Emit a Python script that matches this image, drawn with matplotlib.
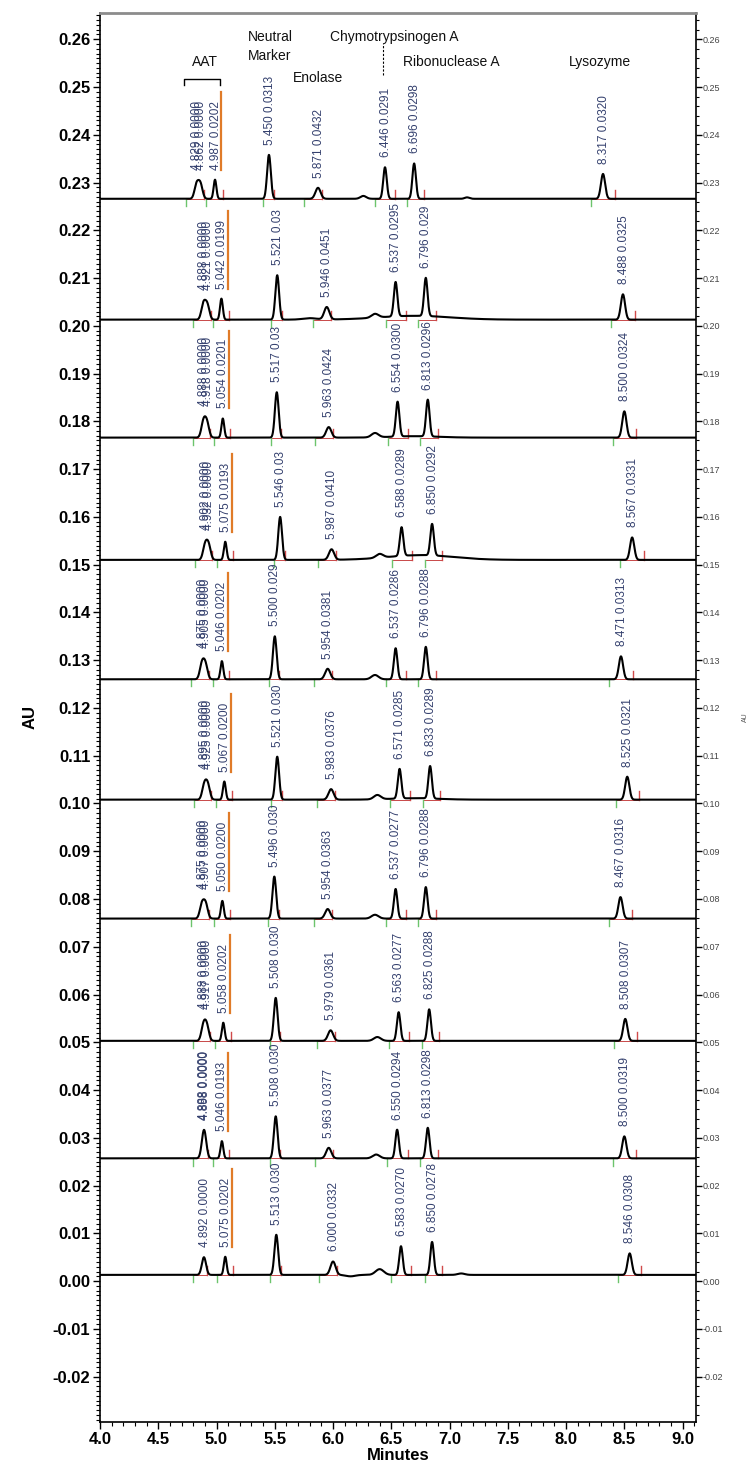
import numpy as np
import matplotlib
matplotlib.use("Agg")
import matplotlib.pyplot as plt
from matplotlib.ticker import MultipleLocator, FormatStrFormatter
from matplotlib.transforms import Bbox, TransformedBbox

plt.rcParams['font.family'] = ['Liberation Sans', 'DejaVu Sans']

# ---- run baselines (AU), top run first ----
baselines = [0.2266, 0.2013, 0.1766, 0.1510, 0.1260, 0.1008, 0.0759, 0.0503, 0.0257, 0.0013]

# ---- integrated peaks per run: retention time (min), area text, apex height above baseline (AU)
# the leading entries are the AAT main peak (one or two integration events),
# the last six are AAT minor, neutral marker, enolase, chymotrypsinogen A, ribonuclease A, lysozyme
run_rt = [
    [4.829, 4.862, 4.987, 5.450, 5.871, 6.446, 6.696, 8.317],
    [4.888, 4.921, 5.042, 5.521, 5.946, 6.537, 6.796, 8.488],
    [4.888, 4.918, 5.054, 5.517, 5.963, 6.554, 6.813, 8.500],
    [4.902, 4.932, 5.075, 5.546, 5.987, 6.588, 6.850, 8.567],
    [4.875, 4.905, 5.046, 5.500, 5.954, 6.537, 6.796, 8.471],
    [4.895, 4.925, 5.067, 5.521, 5.983, 6.571, 6.833, 8.525],
    [4.875, 4.907, 5.050, 5.496, 5.954, 6.537, 6.796, 8.467],
    [4.888, 4.917, 5.058, 5.508, 5.979, 6.563, 6.825, 8.508],
    [4.888, 4.898, 5.046, 5.508, 5.963, 6.550, 6.813, 8.500],
    [4.892, 5.075, 5.513, 6.000, 6.583, 6.850, 8.546],
]
run_area = [
    ["0.0000", "0.0000", "0.0202", "0.0313", "0.0432", "0.0291", "0.0298", "0.0320"],
    ["0.0000", "0.0000", "0.0199", "0.03", "0.0451", "0.0295", "0.029", "0.0325"],
    ["0.0000", "0.0000", "0.0201", "0.03", "0.0424", "0.0300", "0.0296", "0.0324"],
    ["0.0000", "0.0000", "0.0193", "0.03", "0.0410", "0.0289", "0.0292", "0.0331"],
    ["0.0000", "0.0000", "0.0202", "0.029", "0.0381", "0.0286", "0.0288", "0.0313"],
    ["0.0000", "0.0000", "0.0200", "0.030", "0.0376", "0.0285", "0.0289", "0.0321"],
    ["0.0000", "0.0000", "0.0200", "0.030", "0.0363", "0.0277", "0.0288", "0.0316"],
    ["0.0000", "0.0000", "0.0202", "0.030", "0.0361", "0.0277", "0.0288", "0.0307"],
    ["0.0000", "0.0000", "0.0193", "0.030", "0.0377", "0.0294", "0.0298", "0.0319"],
    ["0.0000", "0.0202", "0.030", "0.0332", "0.0270", "0.0278", "0.0308"],
]
run_height = [
    [0.0030, 0.0030, 0.0040, 0.0092, 0.0023, 0.0066, 0.0074, 0.0052],
    [0.0033, 0.0030, 0.0044, 0.0093, 0.0026, 0.0072, 0.0080, 0.0053],
    [0.0033, 0.0030, 0.0040, 0.0095, 0.0022, 0.0073, 0.0077, 0.0055],
    [0.0030, 0.0030, 0.0038, 0.0090, 0.0022, 0.0060, 0.0066, 0.0047],
    [0.0032, 0.0030, 0.0038, 0.0090, 0.0022, 0.0065, 0.0068, 0.0048],
    [0.0030, 0.0030, 0.0038, 0.0090, 0.0022, 0.0062, 0.0068, 0.0048],
    [0.0030, 0.0030, 0.0037, 0.0088, 0.0020, 0.0062, 0.0066, 0.0045],
    [0.0032, 0.0030, 0.0038, 0.0090, 0.0022, 0.0060, 0.0066, 0.0046],
    [0.0032, 0.0030, 0.0036, 0.0088, 0.0022, 0.0060, 0.0064, 0.0046],
    [0.0037, 0.0038, 0.0084, 0.0028, 0.0060, 0.0069, 0.0045],
]
# small baseline features per run: (centre min, height AU, width min)
run_bumps = [
    [(6.26, 0.0006, 0.025), (7.15, 0.0003, 0.02)],
    [(6.36, 0.0008, 0.03), (6.7, 0.0008, 0.30), (5.8, 0.0003, 0.06)],
    [(6.36, 0.0009, 0.03), (6.7, 0.0003, 0.20)],
    [(6.40, 0.0008, 0.03), (6.75, 0.0010, 0.28)],
    [(6.36, 0.0009, 0.03)],
    [(6.38, 0.0009, 0.03), (6.7, 0.0003, 0.20)],
    [(6.36, 0.0008, 0.03)],
    [(6.38, 0.0008, 0.03)],
    [(6.37, 0.0008, 0.03)],
    [(6.40, 0.0012, 0.035), (6.15, -0.0003, 0.04), (7.1, 0.0003, 0.03)],
]

# compound labels across the top run
names = ["AAT", "Neutral\nMarker", "Enolase", "Chymotrypsinogen A", "Ribonuclease A", "Lysozyme"]
name_x = [4.90, 5.27, 5.655, 5.97, 6.60, 8.02]
name_y = [0.2552, 0.2585, 0.2518, 0.2605, 0.2552, 0.2552]

# peak shape and integration-window settings for the trailing six peaks
tail_sigma = [0.012, 0.016, 0.022, 0.015, 0.015, 0.018]
tail_start = [-0.075, -0.05, -0.12, -0.085, -0.065, -0.10]
tail_end = [0.065, 0.04, 0.035, 0.09, 0.085, 0.10]
aat_sigma = 0.018

x_min, x_max = 4.0, 9.115
y_min, y_max = -0.0295, 0.2655
t = np.linspace(x_min, x_max, 3000)

fig = plt.figure(figsize=(7.52, 14.71), dpi=100)
ax = fig.add_axes([100 / 752, 1 - 1422 / 1471, 596 / 752, 1409 / 1471])

label_col = '#34406e'
tick_len = 0.0015

for i, base in enumerate(baselines):
    rts, areas, hts = run_rt[i], run_area[i], run_height[i]
    n_aat = len(rts) - 6
    sigmas = [aat_sigma] * n_aat + tail_sigma
    y = np.full_like(t, base)
    for rt, h, s in zip(rts, hts, sigmas):
        y += h * np.exp(-0.5 * ((t - rt) / s) ** 2)
    for c, h, w in run_bumps[i]:
        y += h * np.exp(-0.5 * ((t - c) / w) ** 2)

    # integration windows: AAT main group then the rest
    windows = [(rts[0] - 0.09, rts[n_aat - 1] + 0.03)]
    for k in range(6):
        rt = rts[n_aat + k]
        windows.append((rt + tail_start[k], rt + tail_end[k]))
    for a, b in windows:
        ax.plot([a, b], [base, base], color='#c84848', lw=0.7, zorder=2)
        ax.plot([a, a], [base, base - tick_len], color='#6cc46c', lw=1.0, zorder=2)
        ax.plot([b, b], [base, base + 0.0018], color='#d04a4a', lw=1.0, zorder=2)

    ax.plot(t, y, color='black', lw=1.5, zorder=3)

    # clip labels to this run's band
    top = baselines[i - 1] - 0.0004 if i > 0 else y_max
    clip = TransformedBbox(Bbox([[x_min, base], [x_max, top]]), ax.transData)
    for j, (rt, area) in enumerate(zip(rts, areas)):
        sel = np.abs(t - rt) < 0.03
        y0 = y[sel].max() + 0.0021
        if j < n_aat:
            y0 = y[np.abs(t - rts[0]) < 0.06].max() + 0.0021
        txt = ax.text(rt + 0.005, y0, f"{rt:.3f} {area}", rotation=90, ha='center',
                      va='bottom', fontsize=8.5, color=label_col, zorder=4)
        txt.set_clip_box(clip)
        txt.set_clip_on(True)
        if j == n_aat:
            ax.plot([rt + 0.055, rt + 0.055], [y0, y0 + 0.0163], color='#e07b28', lw=1.6, zorder=4)

# compound names and the AAT bracket
for nm, nx, ny in zip(names, name_x, name_y):
    ax.text(nx, ny, nm, fontsize=10, ha='center' if nm == 'AAT' else 'left',
            va='center', color='#111111', linespacing=1.45)
ax.plot([4.72, 4.72, 5.03, 5.03], [0.2505, 0.2516, 0.2516, 0.2505], color='black', lw=1.0)
ax.plot([6.425, 6.425], [0.2525, 0.2592], color='black', lw=0.8, ls=(0, (2, 1.5)))

ax.set_xlim(x_min, x_max)
ax.set_ylim(y_min, y_max)
ax.xaxis.set_major_locator(MultipleLocator(0.5))
ax.xaxis.set_minor_locator(MultipleLocator(0.1))
ax.yaxis.set_major_locator(MultipleLocator(0.01))
ax.yaxis.set_minor_locator(MultipleLocator(0.001))
ax.xaxis.set_major_formatter(FormatStrFormatter('%.1f'))
ax.yaxis.set_major_formatter(FormatStrFormatter('%.2f'))
ax.tick_params(axis='both', which='major', length=5, width=1, labelsize=12, pad=2)
ax.tick_params(axis='both', which='minor', length=3, width=0.8)
for lab in ax.get_xticklabels() + ax.get_yticklabels():
    lab.set_fontweight('bold')
ax.spines['top'].set_color('#8c8c8c')
ax.spines['top'].set_linewidth(2)
for sp in ['left', 'right', 'bottom']:
    ax.spines[sp].set_linewidth(1.2)

ax2 = ax.twinx()
ax2.set_ylim(y_min, y_max)
ax2.yaxis.set_major_locator(MultipleLocator(0.01))
ax2.yaxis.set_minor_locator(MultipleLocator(0.002))
ax2.yaxis.set_major_formatter(FormatStrFormatter('%.2f'))
ax2.tick_params(axis='y', which='major', length=4, width=1, labelsize=6.5, pad=1, labelcolor='#444444')
ax2.tick_params(axis='y', which='minor', length=2.5, width=0.8)
for sp in ax2.spines.values():
    sp.set_visible(False)

ax.set_xlabel('Minutes', fontsize=12, fontweight='bold', labelpad=1)
fig.text(30 / 752, 1 - 717 / 1471, 'AU', rotation=90, fontsize=12, fontweight='bold',
         ha='center', va='center')
fig.text(745 / 752, 1 - 717 / 1471, 'AU', rotation=90, fontsize=5, color='#555555',
         ha='center', va='center')

fig.savefig('out.png', dpi=100)
